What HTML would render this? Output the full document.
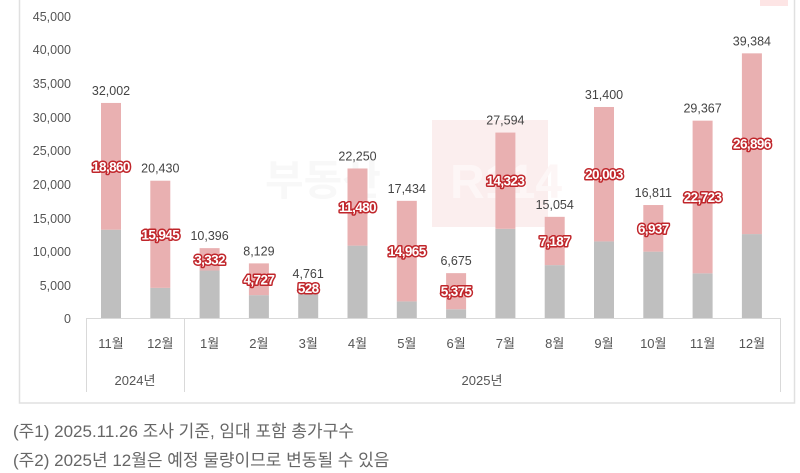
<!DOCTYPE html>
<html><head><meta charset="utf-8"><style>
html,body{margin:0;padding:0;background:#fff;width:800px;height:473px;overflow:hidden}
svg{display:block}
.t{font-family:"Liberation Sans","Noto Sans CJK KR",sans-serif}
</style></head><body>
<svg width="800" height="473" xmlns="http://www.w3.org/2000/svg">
<rect x="19.5" y="-2" width="775" height="405" fill="#fff" stroke="#e0e0e0" stroke-width="1.5"/>
<rect x="760" y="0" width="28" height="6" fill="#fde5e5"/>
<!-- watermark -->
<rect x="432" y="120" width="116" height="107" fill="#fbeeee"/>
<text x="265" y="195" class="t" font-size="42" font-weight="bold" fill="#f8f8f8">부동산</text>
<text x="450" y="198" class="t" font-size="48" font-weight="bold" fill="#fdf6f6">R114</text>
<g class="t" font-size="12.5" fill="#555" text-anchor="end">
<text x="71" y="21">45,000</text><text x="71" y="54">40,000</text><text x="71" y="88">35,000</text>
<text x="71" y="122">30,000</text><text x="71" y="155">25,000</text><text x="71" y="189">20,000</text>
<text x="71" y="223">15,000</text><text x="71" y="256">10,000</text><text x="71" y="290">5,000</text>
<text x="71" y="323">0</text>
</g>
<g id="bars"></g>
<line x1="86" y1="318.5" x2="780" y2="318.5" stroke="#d9d9d9"/>
<line x1="86.5" y1="318" x2="86.5" y2="392" stroke="#d9d9d9"/>
<line x1="184.5" y1="318" x2="184.5" y2="392" stroke="#d9d9d9"/>
<line x1="780.5" y1="318" x2="780.5" y2="392" stroke="#d9d9d9"/>
<g class="t" font-size="13" fill="#555" text-anchor="middle">
<text x="135" y="385">2024년</text><text x="482" y="385">2025년</text>
</g>
<g class="t" font-size="17" fill="#666">
<text x="13" y="437">(주1) 2025.11.26 조사 기준, 임대 포함 총가구수</text>
<text x="13" y="466">(주2) 2025년 12월은 예정 물량이므로 변동될 수 있음</text>
</g>
</svg>
<script>
var d=[["11월",32002,18860],["12월",20430,15945],["1월",10396,3332],["2월",8129,4727],["3월",4761,528],["4월",22250,11480],["5월",17434,14965],["6월",6675,5375],["7월",27594,14323],["8월",15054,7187],["9월",31400,20003],["10월",16811,6937],["11월",29367,22723],["12월",39384,26896]];
var k=0.00672,b=318,s='';
function f(n){return n.toLocaleString('en-US');}
d.forEach(function(r,i){
 var cx=111+i*49.3,t=r[1],p=r[2],g=t-p;
 var yt=b-t*k,yg=b-g*k;
 s+='<rect x="'+(cx-10)+'" y="'+yg+'" width="20" height="'+(b-yg)+'" fill="#bfbfbf"/>';
 s+='<rect x="'+(cx-10)+'" y="'+yt+'" width="20" height="'+(yg-yt)+'" fill="#e9b0b1"/>';
 s+='<text x="'+cx+'" y="'+(yt-8)+'" class="t" font-size="12.5" fill="#444" text-anchor="middle">'+f(t)+'</text>';
 s+='<text x="'+cx+'" y="'+((yt+yg)/2+5)+'" class="t" font-size="13.5" font-weight="bold" fill="#fff" stroke="#c0262b" stroke-width="3" paint-order="stroke" stroke-linejoin="round" text-anchor="middle" letter-spacing="-0.6">'+f(p)+'</text>';
 s+='<text x="'+cx+'" y="348" class="t" font-size="13" fill="#555" text-anchor="middle">'+r[0]+'</text>';
});
document.getElementById('bars').innerHTML=s;
</script>
</body></html>
